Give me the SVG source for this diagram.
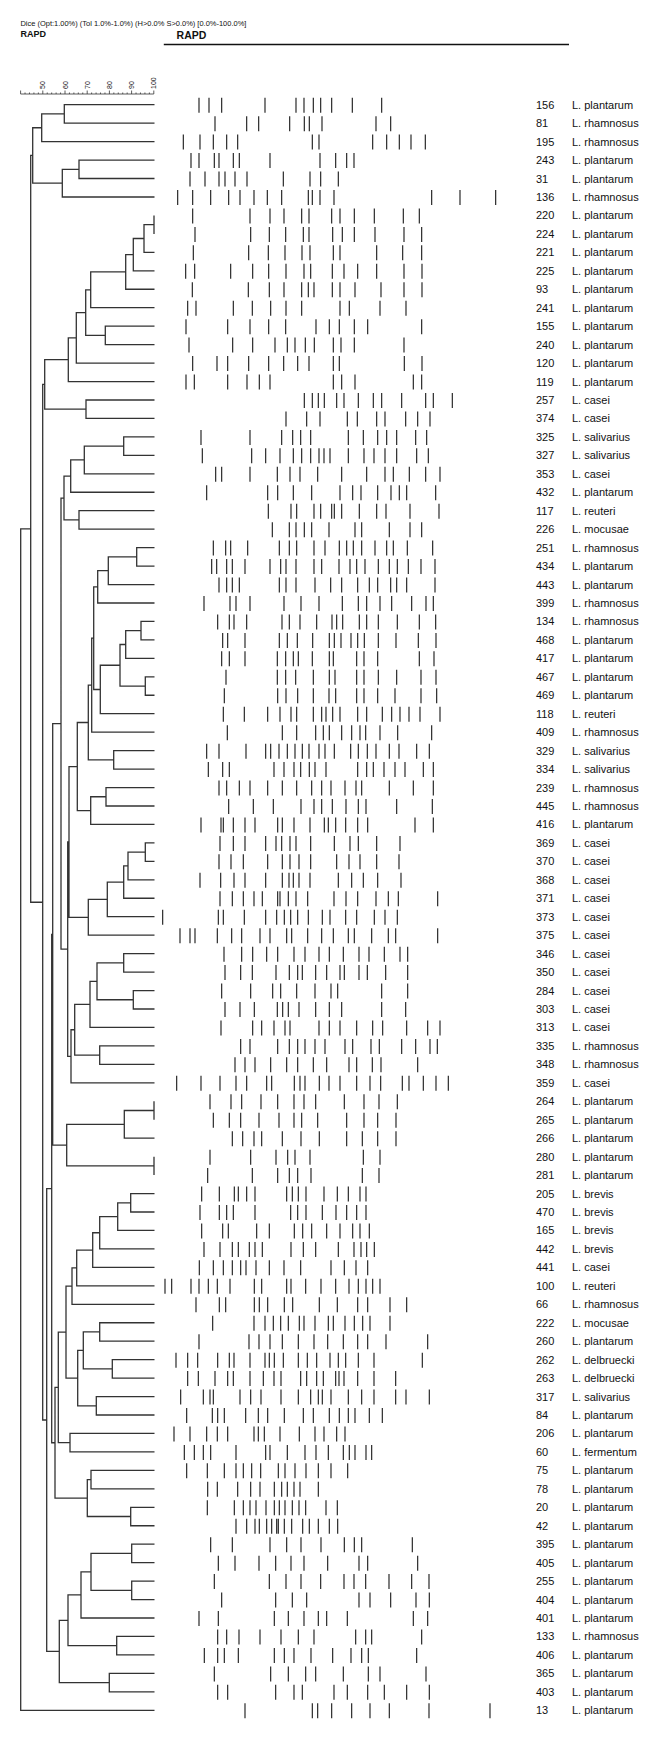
<svg xmlns="http://www.w3.org/2000/svg" width="666" height="1746" viewBox="0 0 666 1746">
<style>
.t{font-family:"Liberation Sans",Arial,sans-serif;fill:#111}
.n,.s{font-family:"Liberation Sans",Arial,sans-serif;font-size:11px;fill:#111}
.b{stroke:#2a2a2a;stroke-width:1.2;vector-effect:non-scaling-stroke;fill:none}
.d{stroke:#333;stroke-width:1.3;fill:none}
.ax{stroke:#333;stroke-width:0.8;fill:none}
</style>
<rect width="666" height="1746" fill="#fff"/>
<g id="header">
<text class="t" x="20.4" y="26" font-size="7.5" textLength="226" lengthAdjust="spacingAndGlyphs">Dice (Opt:1.00%) (Tol 1.0%-1.0%) (H&gt;0.0% S&gt;0.0%) [0.0%-100.0%]</text>
<text class="t" x="20.4" y="36.5" font-size="9" font-weight="bold">RAPD</text>
<text class="t" x="176.6" y="39" font-size="10.5" font-weight="bold">RAPD</text>
<path d="M163.8 44.5H569" stroke="#111" stroke-width="1.6"/>
</g>
<g id="scale">
<path class="ax" d="M20.6 94H153.8M20.6 94v-3.5M25.04 94v-1.5M29.48 94v-1.5M33.92 94v-1.5M38.36 94v-1.5M42.8 94v-3.5M47.24 94v-1.5M51.68 94v-1.5M56.12 94v-1.5M60.56 94v-1.5M65 94v-3.5M69.44 94v-1.5M73.88 94v-1.5M78.32 94v-1.5M82.76 94v-1.5M87.2 94v-3.5M91.64 94v-1.5M96.08 94v-1.5M100.52 94v-1.5M104.96 94v-1.5M109.4 94v-3.5M113.84 94v-1.5M118.28 94v-1.5M122.72 94v-1.5M127.16 94v-1.5M131.6 94v-3.5M136.04 94v-1.5M140.48 94v-1.5M144.92 94v-1.5M149.36 94v-1.5M153.8 94v-3.5"/>
<g class="t" font-size="7">
<text transform="translate(45.3,89) rotate(-90)">50</text>
<text transform="translate(67.5,89) rotate(-90)">60</text>
<text transform="translate(89.7,89) rotate(-90)">70</text>
<text transform="translate(111.9,89) rotate(-90)">80</text>
<text transform="translate(134.1,89) rotate(-90)">90</text>
<text transform="translate(156.3,89) rotate(-90)">100</text>
</g>
</g>
<g id="connectors">
<path class="d" d="M154.5 104.7H64.3V123.16H154.5M64.3 113.93H41.7V141.61H154.5M154.5 160.07H79V178.52H154.5M79 169.3H62.3V196.98H154.5M41.7 127.77H32.7V183.14H62.3
M154 215.43V233.89M154 224.66H144V252.34H154.5M144 238.5H133.3V270.8H154.5M133.3 254.65H125.7V289.25H154.5M125.7 271.95H90.7V307.71H154.5M154.5 326.16H105.3V344.62H154.5M90.7 289.83H85.7V335.39H105.3M85.7 312.61H76.3V363.07H154.5M76.3 337.84H68.3V381.53H154.5M154.5 399.98H86V418.44H154.5M68.3 359.69H44.7V409.21H86
M154.5 436.89H123.7V455.35H154.5M123.7 446.12H84.3V473.8H154.5M84.3 459.96H70.7V492.26H154.5M154.5 510.71H79V529.17H154.5M70.7 476.11H64V519.94H79
M154.5 547.62H136.7V566.08H154.5M136.7 556.85H108.3V584.53H154.5M108.3 570.69H97.7V602.99H154.5M154.5 621.44H141V639.9H154.5M141 630.67H125.7V658.35H154.5M154.5 676.81H145.3V695.26H154.5M125.7 644.51H120V686.04H145.3M120 665.27H100.3V713.72H154.5M97.7 586.84H93.7V689.5H100.3M93.7 638.17H91.7V732.17H154.5M154.5 750.63H113.7V769.08H154.5M91.7 685.17H88.3V759.86H113.7M154.5 787.54H106V805.99H154.5M106 796.77H90.7V824.45H154.5M88.3 722.51H77.3V810.61H90.7
M154.5 842.9H145.3V861.36H154.5M145.3 852.13H128V879.81H154.5M128 865.97H123.7V898.27H154.5M123.7 882.12H107.3V916.72H154.5M107.3 899.42H88.3V935.18H154.5M77.3 766.56H69V917.3H88.3
M154.5 953.63H123.7V972.09H154.5M154.5 990.54H133.3V1009H154.5M123.7 962.86H97V999.77H133.3M97 981.32H90V1027.45H154.5M154.5 1045.91H99.7V1064.36H154.5M90 1004.39H74.7V1055.14H99.7M74.7 1029.77H71V1082.82H154.5M69 841.93H67.7V1056.3H71M64 498.03H61V949.11H67.7
M154 1101.27V1119.73M154 1110.5H124.3V1138.18H154.5M154 1156.64V1175.09M124.3 1124.34H66.7V1165.87H154M61 723.57H52.7V1145.1H66.7
M154.5 1193.55H130.7V1212H154.5M130.7 1202.78H117.7V1230.46H154.5M117.7 1216.62H99.7V1248.91H154.5M99.7 1232.76H92.7V1267.37H154.5M92.7 1250.07H76.7V1285.82H154.5M76.7 1267.95H72V1304.28H154.5
M154.5 1322.73H99.7V1341.19H154.5M154.5 1359.64H112.3V1378.1H154.5M99.7 1331.96H83.3V1368.87H112.3M154.5 1396.55H96.3V1415.01H154.5M83.3 1350.41H77.7V1405.78H96.3M72 1286.1H66V1378.1H77.7M154.5 1433.46H70V1451.92H154.5M66 1332.1H58.3V1442.69H70M154.5 1470.37H91V1488.83H154.5M154.5 1507.28H130.7V1525.74H154.5M91 1479.6H87.3V1516.51H130.7M58.3 1387.4H55V1498.06H87.3M52.7 934.34H51.7V1442.73H55
M154.5 1544.19H131.7V1562.65H154.5M154.5 1581.1H131.7V1599.56H154.5M131.7 1553.42H91V1590.33H131.7M91 1571.88H81V1618.01H154.5M154.5 1636.47H116.7V1654.92H154.5M81 1594.95H68V1645.7H116.7M154.5 1673.38H109.3V1691.83H154.5M68 1620.32H59.3V1682.61H109.3M51.7 1188.53H46.7V1651.46H59.3M44.7 384.45H42.7V1420H46.7M32.7 155.45H30.7V902.23H42.7M30.7 528.84H20.7V1710.29H154.5"/>
</g>
<g id="r1" transform="translate(0,104.7)"><text class="n" x="536" y="4">156</text><text class="s" x="572" y="4">L. plantarum</text><path class="b" transform="scale(.33333,1)" d="M597-7v15M627-7v15M665-7v15M795-7v15M888-7v15M912-7v15M940-7v15M962-7v15M995-7v15M1057-7v15M1145-7v15"/></g>
<g id="r2" transform="translate(0,123.16)"><text class="n" x="536" y="4">81</text><text class="s" x="572" y="4">L. rhamnosus</text><path class="b" transform="scale(.33333,1)" d="M645-7v15M740-7v15M776-7v15M869-7v15M913-7v15M928-7v15M966-7v15M1128-7v15M1172-7v15"/></g>
<g id="r3" transform="translate(0,141.61)"><text class="n" x="536" y="4">195</text><text class="s" x="572" y="4">L. rhamnosus</text><path class="b" transform="scale(.33333,1)" d="M550-7v15M600-7v15M640-7v15M680-7v15M713-7v15M937-7v15M957-7v15M1118-7v15M1160-7v15M1198-7v15M1233-7v15M1276-7v15"/></g>
<g id="r4" transform="translate(0,160.07)"><text class="n" x="536" y="4">243</text><text class="s" x="572" y="4">L. plantarum</text><path class="b" transform="scale(.33333,1)" d="M573-7v15M597-7v15M643-7v15M657-7v15M700-7v15M718-7v15M810-7v15M960-7v15M1007-7v15M1040-7v15M1062-7v15"/></g>
<g id="r5" transform="translate(0,178.52)"><text class="n" x="536" y="4">31</text><text class="s" x="572" y="4">L. plantarum</text><path class="b" transform="scale(.33333,1)" d="M570-7v15M615-7v15M657-7v15M675-7v15M705-7v15M741-7v15M850-7v15M930-7v15M962-7v15M1015-7v15"/></g>
<g id="r6" transform="translate(0,196.98)"><text class="n" x="536" y="4">136</text><text class="s" x="572" y="4">L. rhamnosus</text><path class="b" transform="scale(.33333,1)" d="M533-7v15M578-7v15M632-7v15M686-7v15M720-7v15M762-7v15M802-7v15M845-7v15M925-7v15M937-7v15M960-7v15M1002-7v15M1295-7v15M1380-7v15M1487-7v15"/></g>
<g id="r7" transform="translate(0,215.43)"><text class="n" x="536" y="4">220</text><text class="s" x="572" y="4">L. plantarum</text><path class="b" transform="scale(.33333,1)" d="M578-7v15M750-7v15M810-7v15M852-7v15M905-7v15M927-7v15M995-7v15M1020-7v15M1063-7v15M1123-7v15M1210-7v15M1258-7v15"/></g>
<g id="r8" transform="translate(0,233.89)"><text class="n" x="536" y="4">224</text><text class="s" x="572" y="4">L. plantarum</text><path class="b" transform="scale(.33333,1)" d="M585-7v15M752-7v15M808-7v15M857-7v15M910-7v15M927-7v15M998-7v15M1027-7v15M1063-7v15M1125-7v15M1212-7v15M1265-7v15"/></g>
<g id="r9" transform="translate(0,252.34)"><text class="n" x="536" y="4">221</text><text class="s" x="572" y="4">L. plantarum</text><path class="b" transform="scale(.33333,1)" d="M580-7v15M746-7v15M805-7v15M855-7v15M906-7v15M930-7v15M1000-7v15M1020-7v15M1130-7v15M1208-7v15M1265-7v15"/></g>
<g id="r10" transform="translate(0,270.8)"><text class="n" x="536" y="4">225</text><text class="s" x="572" y="4">L. plantarum</text><path class="b" transform="scale(.33333,1)" d="M557-7v15M584-7v15M692-7v15M758-7v15M806-7v15M858-7v15M912-7v15M932-7v15M997-7v15M1032-7v15M1073-7v15M1130-7v15M1212-7v15M1266-7v15"/></g>
<g id="r11" transform="translate(0,289.25)"><text class="n" x="536" y="4">93</text><text class="s" x="572" y="4">L. plantarum</text><path class="b" transform="scale(.33333,1)" d="M577-7v15M745-7v15M808-7v15M852-7v15M905-7v15M925-7v15M942-7v15M997-7v15M1020-7v15M1065-7v15M1143-7v15M1212-7v15M1266-7v15"/></g>
<g id="r12" transform="translate(0,307.71)"><text class="n" x="536" y="4">241</text><text class="s" x="572" y="4">L. plantarum</text><path class="b" transform="scale(.33333,1)" d="M563-7v15M588-7v15M700-7v15M757-7v15M812-7v15M858-7v15M905-7v15M1020-7v15M1048-7v15M1140-7v15M1218-7v15"/></g>
<g id="r13" transform="translate(0,326.16)"><text class="n" x="536" y="4">155</text><text class="s" x="572" y="4">L. plantarum</text><path class="b" transform="scale(.33333,1)" d="M558-7v15M683-7v15M750-7v15M806-7v15M857-7v15M948-7v15M988-7v15M1018-7v15M1063-7v15M1103-7v15M1265-7v15"/></g>
<g id="r14" transform="translate(0,344.62)"><text class="n" x="536" y="4">240</text><text class="s" x="572" y="4">L. plantarum</text><path class="b" transform="scale(.33333,1)" d="M567-7v15M698-7v15M758-7v15M825-7v15M862-7v15M885-7v15M916-7v15M943-7v15M1000-7v15M1023-7v15M1063-7v15M1212-7v15"/></g>
<g id="r15" transform="translate(0,363.07)"><text class="n" x="536" y="4">120</text><text class="s" x="572" y="4">L. plantarum</text><path class="b" transform="scale(.33333,1)" d="M578-7v15M651-7v15M683-7v15M746-7v15M806-7v15M851-7v15M893-7v15M927-7v15M1000-7v15M1018-7v15M1213-7v15M1266-7v15"/></g>
<g id="r16" transform="translate(0,381.53)"><text class="n" x="536" y="4">119</text><text class="s" x="572" y="4">L. plantarum</text><path class="b" transform="scale(.33333,1)" d="M558-7v15M583-7v15M683-7v15M741-7v15M778-7v15M810-7v15M1000-7v15M1025-7v15M1065-7v15M1240-7v15M1265-7v15"/></g>
<g id="r17" transform="translate(0,399.98)"><text class="n" x="536" y="4">257</text><text class="s" x="572" y="4">L. casei</text><path class="b" transform="scale(.33333,1)" d="M913-7v15M937-7v15M955-7v15M973-7v15M1010-7v15M1032-7v15M1075-7v15M1120-7v15M1145-7v15M1205-7v15M1277-7v15M1300-7v15M1357-7v15"/></g>
<g id="r18" transform="translate(0,418.44)"><text class="n" x="536" y="4">374</text><text class="s" x="572" y="4">L. casei</text><path class="b" transform="scale(.33333,1)" d="M858-7v15M920-7v15M960-7v15M1042-7v15M1072-7v15M1130-7v15M1155-7v15M1217-7v15M1253-7v15M1290-7v15"/></g>
<g id="r19" transform="translate(0,436.89)"><text class="n" x="536" y="4">325</text><text class="s" x="572" y="4">L. salivarius</text><path class="b" transform="scale(.33333,1)" d="M603-7v15M750-7v15M845-7v15M878-7v15M902-7v15M932-7v15M1045-7v15M1090-7v15M1133-7v15M1160-7v15M1190-7v15M1247-7v15M1280-7v15"/></g>
<g id="r20" transform="translate(0,455.35)"><text class="n" x="536" y="4">327</text><text class="s" x="572" y="4">L. salivarius</text><path class="b" transform="scale(.33333,1)" d="M607-7v15M755-7v15M797-7v15M840-7v15M880-7v15M905-7v15M932-7v15M957-7v15M972-7v15M990-7v15M1045-7v15M1092-7v15M1122-7v15M1155-7v15M1190-7v15M1250-7v15M1285-7v15"/></g>
<g id="r21" transform="translate(0,473.8)"><text class="n" x="536" y="4">353</text><text class="s" x="572" y="4">L. casei</text><path class="b" transform="scale(.33333,1)" d="M647-7v15M665-7v15M750-7v15M832-7v15M870-7v15M900-7v15M953-7v15M1025-7v15M1100-7v15M1155-7v15M1180-7v15M1228-7v15M1277-7v15M1320-7v15"/></g>
<g id="r22" transform="translate(0,492.26)"><text class="n" x="536" y="4">432</text><text class="s" x="572" y="4">L. plantarum</text><path class="b" transform="scale(.33333,1)" d="M620-7v15M803-7v15M833-7v15M880-7v15M935-7v15M1020-7v15M1058-7v15M1083-7v15M1133-7v15M1173-7v15M1198-7v15M1220-7v15M1307-7v15"/></g>
<g id="r23" transform="translate(0,510.71)"><text class="n" x="536" y="4">117</text><text class="s" x="572" y="4">L. reuteri</text><path class="b" transform="scale(.33333,1)" d="M805-7v15M873-7v15M890-7v15M942-7v15M962-7v15M995-7v15M1003-7v15M1025-7v15M1078-7v15M1130-7v15M1158-7v15M1230-7v15M1317-7v15"/></g>
<g id="r24" transform="translate(0,529.17)"><text class="n" x="536" y="4">226</text><text class="s" x="572" y="4">L. mocusae</text><path class="b" transform="scale(.33333,1)" d="M817-7v15M868-7v15M888-7v15M913-7v15M935-7v15M987-7v15M1065-7v15M1085-7v15M1168-7v15M1230-7v15M1265-7v15"/></g>
<g id="r25" transform="translate(0,547.62)"><text class="n" x="536" y="4">251</text><text class="s" x="572" y="4">L. rhamnosus</text><path class="b" transform="scale(.33333,1)" d="M640-7v15M677-7v15M692-7v15M743-7v15M838-7v15M868-7v15M890-7v15M942-7v15M975-7v15M1018-7v15M1040-7v15M1060-7v15M1085-7v15M1125-7v15M1160-7v15M1180-7v15M1222-7v15M1298-7v15"/></g>
<g id="r26" transform="translate(0,566.08)"><text class="n" x="536" y="4">434</text><text class="s" x="572" y="4">L. plantarum</text><path class="b" transform="scale(.33333,1)" d="M635-7v15M650-7v15M680-7v15M697-7v15M735-7v15M810-7v15M842-7v15M858-7v15M888-7v15M942-7v15M965-7v15M1017-7v15M1050-7v15M1070-7v15M1095-7v15M1135-7v15M1168-7v15M1192-7v15M1225-7v15M1263-7v15M1305-7v15"/></g>
<g id="r27" transform="translate(0,584.53)"><text class="n" x="536" y="4">443</text><text class="s" x="572" y="4">L. plantarum</text><path class="b" transform="scale(.33333,1)" d="M657-7v15M680-7v15M697-7v15M718-7v15M838-7v15M858-7v15M888-7v15M945-7v15M992-7v15M1025-7v15M1073-7v15M1108-7v15M1133-7v15M1172-7v15M1190-7v15M1220-7v15M1305-7v15"/></g>
<g id="r28" transform="translate(0,602.99)"><text class="n" x="536" y="4">399</text><text class="s" x="572" y="4">L. rhamnosus</text><path class="b" transform="scale(.33333,1)" d="M612-7v15M690-7v15M708-7v15M750-7v15M852-7v15M903-7v15M957-7v15M1027-7v15M1075-7v15M1100-7v15M1140-7v15M1175-7v15M1235-7v15M1278-7v15M1300-7v15"/></g>
<g id="r29" transform="translate(0,621.44)"><text class="n" x="536" y="4">134</text><text class="s" x="572" y="4">L. rhamnosus</text><path class="b" transform="scale(.33333,1)" d="M653-7v15M688-7v15M702-7v15M740-7v15M846-7v15M868-7v15M900-7v15M950-7v15M996-7v15M1010-7v15M1028-7v15M1078-7v15M1100-7v15M1135-7v15M1192-7v15M1258-7v15M1307-7v15"/></g>
<g id="r30" transform="translate(0,639.9)"><text class="n" x="536" y="4">468</text><text class="s" x="572" y="4">L. plantarum</text><path class="b" transform="scale(.33333,1)" d="M668-7v15M683-7v15M735-7v15M838-7v15M862-7v15M892-7v15M938-7v15M988-7v15M1003-7v15M1023-7v15M1053-7v15M1073-7v15M1093-7v15M1135-7v15M1188-7v15M1255-7v15M1308-7v15"/></g>
<g id="r31" transform="translate(0,658.35)"><text class="n" x="536" y="4">417</text><text class="s" x="572" y="4">L. plantarum</text><path class="b" transform="scale(.33333,1)" d="M665-7v15M688-7v15M735-7v15M832-7v15M857-7v15M880-7v15M895-7v15M937-7v15M988-7v15M1000-7v15M1070-7v15M1092-7v15M1133-7v15M1258-7v15M1302-7v15"/></g>
<g id="r32" transform="translate(0,676.81)"><text class="n" x="536" y="4">467</text><text class="s" x="572" y="4">L. plantarum</text><path class="b" transform="scale(.33333,1)" d="M678-7v15M832-7v15M857-7v15M887-7v15M940-7v15M988-7v15M1005-7v15M1070-7v15M1092-7v15M1135-7v15M1190-7v15M1263-7v15M1308-7v15"/></g>
<g id="r33" transform="translate(0,695.26)"><text class="n" x="536" y="4">469</text><text class="s" x="572" y="4">L. plantarum</text><path class="b" transform="scale(.33333,1)" d="M673-7v15M833-7v15M858-7v15M893-7v15M940-7v15M987-7v15M1007-7v15M1070-7v15M1092-7v15M1133-7v15M1185-7v15M1263-7v15M1310-7v15"/></g>
<g id="r34" transform="translate(0,713.72)"><text class="n" x="536" y="4">118</text><text class="s" x="572" y="4">L. reuteri</text><path class="b" transform="scale(.33333,1)" d="M670-7v15M733-7v15M803-7v15M840-7v15M873-7v15M890-7v15M940-7v15M965-7v15M978-7v15M998-7v15M1020-7v15M1073-7v15M1100-7v15M1147-7v15M1175-7v15M1200-7v15M1227-7v15M1260-7v15M1320-7v15"/></g>
<g id="r35" transform="translate(0,732.17)"><text class="n" x="536" y="4">409</text><text class="s" x="572" y="4">L. rhamnosus</text><path class="b" transform="scale(.33333,1)" d="M682-7v15M847-7v15M890-7v15M947-7v15M970-7v15M988-7v15M1025-7v15M1055-7v15M1080-7v15M1097-7v15M1140-7v15M1193-7v15M1295-7v15"/></g>
<g id="r36" transform="translate(0,750.63)"><text class="n" x="536" y="4">329</text><text class="s" x="572" y="4">L. salivarius</text><path class="b" transform="scale(.33333,1)" d="M620-7v15M657-7v15M738-7v15M797-7v15M812-7v15M837-7v15M862-7v15M885-7v15M907-7v15M927-7v15M957-7v15M975-7v15M1003-7v15M1052-7v15M1075-7v15M1102-7v15M1128-7v15M1168-7v15M1197-7v15M1250-7v15M1288-7v15"/></g>
<g id="r37" transform="translate(0,769.08)"><text class="n" x="536" y="4">334</text><text class="s" x="572" y="4">L. salivarius</text><path class="b" transform="scale(.33333,1)" d="M625-7v15M668-7v15M688-7v15M822-7v15M852-7v15M882-7v15M902-7v15M928-7v15M945-7v15M978-7v15M1073-7v15M1100-7v15M1120-7v15M1152-7v15M1185-7v15M1215-7v15M1270-7v15M1300-7v15"/></g>
<g id="r38" transform="translate(0,787.54)"><text class="n" x="536" y="4">239</text><text class="s" x="572" y="4">L. rhamnosus</text><path class="b" transform="scale(.33333,1)" d="M657-7v15M680-7v15M718-7v15M750-7v15M803-7v15M847-7v15M890-7v15M935-7v15M965-7v15M993-7v15M1035-7v15M1068-7v15M1085-7v15M1168-7v15M1240-7v15M1300-7v15"/></g>
<g id="r39" transform="translate(0,805.99)"><text class="n" x="536" y="4">445</text><text class="s" x="572" y="4">L. rhamnosus</text><path class="b" transform="scale(.33333,1)" d="M686-7v15M760-7v15M820-7v15M903-7v15M942-7v15M965-7v15M997-7v15M1038-7v15M1075-7v15M1098-7v15M1190-7v15M1297-7v15"/></g>
<g id="r40" transform="translate(0,824.45)"><text class="n" x="536" y="4">416</text><text class="s" x="572" y="4">L. plantarum</text><path class="b" transform="scale(.33333,1)" d="M603-7v15M663-7v15M670-7v15M700-7v15M735-7v15M765-7v15M833-7v15M847-7v15M882-7v15M930-7v15M973-7v15M985-7v15M1007-7v15M1037-7v15M1073-7v15M1103-7v15M1245-7v15M1300-7v15"/></g>
<g id="r41" transform="translate(0,842.9)"><text class="n" x="536" y="4">369</text><text class="s" x="572" y="4">L. casei</text><path class="b" transform="scale(.33333,1)" d="M660-7v15M700-7v15M735-7v15M797-7v15M828-7v15M845-7v15M870-7v15M888-7v15M932-7v15M1003-7v15M1050-7v15M1075-7v15M1130-7v15M1200-7v15"/></g>
<g id="r42" transform="translate(0,861.36)"><text class="n" x="536" y="4">370</text><text class="s" x="572" y="4">L. casei</text><path class="b" transform="scale(.33333,1)" d="M657-7v15M693-7v15M730-7v15M803-7v15M847-7v15M870-7v15M897-7v15M932-7v15M1010-7v15M1047-7v15M1080-7v15M1130-7v15M1197-7v15"/></g>
<g id="r43" transform="translate(0,879.81)"><text class="n" x="536" y="4">368</text><text class="s" x="572" y="4">L. casei</text><path class="b" transform="scale(.33333,1)" d="M600-7v15M662-7v15M702-7v15M735-7v15M797-7v15M847-7v15M867-7v15M880-7v15M897-7v15M930-7v15M1015-7v15M1055-7v15M1090-7v15M1133-7v15M1203-7v15"/></g>
<g id="r44" transform="translate(0,898.27)"><text class="n" x="536" y="4">371</text><text class="s" x="572" y="4">L. casei</text><path class="b" transform="scale(.33333,1)" d="M660-7v15M697-7v15M730-7v15M762-7v15M787-7v15M833-7v15M840-7v15M865-7v15M888-7v15M923-7v15M1002-7v15M1038-7v15M1073-7v15M1128-7v15M1165-7v15M1195-7v15M1313-7v15"/></g>
<g id="r45" transform="translate(0,916.72)"><text class="n" x="536" y="4">373</text><text class="s" x="572" y="4">L. casei</text><path class="b" transform="scale(.33333,1)" d="M488-7v15M655-7v15M670-7v15M733-7v15M797-7v15M830-7v15M853-7v15M872-7v15M893-7v15M925-7v15M967-7v15M990-7v15M1037-7v15M1070-7v15M1123-7v15M1155-7v15M1192-7v15"/></g>
<g id="r46" transform="translate(0,935.18)"><text class="n" x="536" y="4">375</text><text class="s" x="572" y="4">L. casei</text><path class="b" transform="scale(.33333,1)" d="M540-7v15M570-7v15M585-7v15M652-7v15M695-7v15M725-7v15M780-7v15M810-7v15M860-7v15M875-7v15M923-7v15M965-7v15M1000-7v15M1045-7v15M1063-7v15M1115-7v15M1165-7v15M1187-7v15M1313-7v15"/></g>
<g id="r47" transform="translate(0,953.63)"><text class="n" x="536" y="4">346</text><text class="s" x="572" y="4">L. casei</text><path class="b" transform="scale(.33333,1)" d="M672-7v15M725-7v15M758-7v15M800-7v15M833-7v15M882-7v15M915-7v15M957-7v15M988-7v15M1030-7v15M1077-7v15M1107-7v15M1153-7v15M1200-7v15M1223-7v15"/></g>
<g id="r48" transform="translate(0,972.09)"><text class="n" x="536" y="4">350</text><text class="s" x="572" y="4">L. casei</text><path class="b" transform="scale(.33333,1)" d="M675-7v15M722-7v15M757-7v15M828-7v15M868-7v15M893-7v15M907-7v15M947-7v15M980-7v15M1020-7v15M1033-7v15M1077-7v15M1102-7v15M1157-7v15M1223-7v15"/></g>
<g id="r49" transform="translate(0,990.54)"><text class="n" x="536" y="4">284</text><text class="s" x="572" y="4">L. casei</text><path class="b" transform="scale(.33333,1)" d="M665-7v15M752-7v15M818-7v15M842-7v15M890-7v15M945-7v15M993-7v15M1013-7v15M1145-7v15M1223-7v15"/></g>
<g id="r50" transform="translate(0,1009)"><text class="n" x="536" y="4">303</text><text class="s" x="572" y="4">L. casei</text><path class="b" transform="scale(.33333,1)" d="M675-7v15M720-7v15M763-7v15M832-7v15M848-7v15M865-7v15M897-7v15M947-7v15M988-7v15M1025-7v15M1145-7v15M1217-7v15"/></g>
<g id="r51" transform="translate(0,1027.45)"><text class="n" x="536" y="4">313</text><text class="s" x="572" y="4">L. casei</text><path class="b" transform="scale(.33333,1)" d="M663-7v15M758-7v15M785-7v15M822-7v15M855-7v15M870-7v15M957-7v15M988-7v15M1020-7v15M1070-7v15M1118-7v15M1148-7v15M1220-7v15M1283-7v15M1320-7v15"/></g>
<g id="r52" transform="translate(0,1045.91)"><text class="n" x="536" y="4">335</text><text class="s" x="572" y="4">L. rhamnosus</text><path class="b" transform="scale(.33333,1)" d="M722-7v15M750-7v15M833-7v15M868-7v15M893-7v15M915-7v15M945-7v15M975-7v15M1035-7v15M1058-7v15M1113-7v15M1138-7v15M1205-7v15M1247-7v15M1290-7v15M1312-7v15"/></g>
<g id="r53" transform="translate(0,1064.36)"><text class="n" x="536" y="4">348</text><text class="s" x="572" y="4">L. rhamnosus</text><path class="b" transform="scale(.33333,1)" d="M705-7v15M735-7v15M765-7v15M812-7v15M860-7v15M893-7v15M940-7v15M980-7v15M1047-7v15M1070-7v15M1117-7v15M1143-7v15M1253-7v15"/></g>
<g id="r54" transform="translate(0,1082.82)"><text class="n" x="536" y="4">359</text><text class="s" x="572" y="4">L. casei</text><path class="b" transform="scale(.33333,1)" d="M530-7v15M603-7v15M660-7v15M708-7v15M740-7v15M800-7v15M815-7v15M883-7v15M900-7v15M915-7v15M958-7v15M987-7v15M1020-7v15M1070-7v15M1110-7v15M1142-7v15M1207-7v15M1227-7v15M1270-7v15M1308-7v15M1345-7v15"/></g>
<g id="r55" transform="translate(0,1101.27)"><text class="n" x="536" y="4">264</text><text class="s" x="572" y="4">L. plantarum</text><path class="b" transform="scale(.33333,1)" d="M630-7v15M693-7v15M725-7v15M783-7v15M833-7v15M882-7v15M912-7v15M947-7v15M1033-7v15M1092-7v15M1137-7v15M1192-7v15"/></g>
<g id="r56" transform="translate(0,1119.73)"><text class="n" x="536" y="4">265</text><text class="s" x="572" y="4">L. plantarum</text><path class="b" transform="scale(.33333,1)" d="M640-7v15M688-7v15M722-7v15M777-7v15M837-7v15M882-7v15M905-7v15M953-7v15M1040-7v15M1092-7v15M1133-7v15M1188-7v15"/></g>
<g id="r57" transform="translate(0,1138.18)"><text class="n" x="536" y="4">266</text><text class="s" x="572" y="4">L. plantarum</text><path class="b" transform="scale(.33333,1)" d="M697-7v15M728-7v15M762-7v15M785-7v15M847-7v15M903-7v15M958-7v15M1040-7v15M1087-7v15M1133-7v15M1188-7v15"/></g>
<g id="r58" transform="translate(0,1156.64)"><text class="n" x="536" y="4">280</text><text class="s" x="572" y="4">L. plantarum</text><path class="b" transform="scale(.33333,1)" d="M630-7v15M752-7v15M828-7v15M863-7v15M885-7v15M930-7v15M1090-7v15M1140-7v15"/></g>
<g id="r59" transform="translate(0,1175.09)"><text class="n" x="536" y="4">281</text><text class="s" x="572" y="4">L. plantarum</text><path class="b" transform="scale(.33333,1)" d="M623-7v15M757-7v15M833-7v15M868-7v15M893-7v15M933-7v15M1087-7v15M1137-7v15"/></g>
<g id="r60" transform="translate(0,1193.55)"><text class="n" x="536" y="4">205</text><text class="s" x="572" y="4">L. brevis</text><path class="b" transform="scale(.33333,1)" d="M605-7v15M658-7v15M703-7v15M715-7v15M740-7v15M765-7v15M860-7v15M877-7v15M895-7v15M918-7v15M972-7v15M1012-7v15M1045-7v15M1080-7v15M1098-7v15"/></g>
<g id="r61" transform="translate(0,1212)"><text class="n" x="536" y="4">470</text><text class="s" x="572" y="4">L. brevis</text><path class="b" transform="scale(.33333,1)" d="M600-7v15M658-7v15M680-7v15M700-7v15M765-7v15M872-7v15M893-7v15M918-7v15M967-7v15M1008-7v15M1040-7v15M1070-7v15M1098-7v15"/></g>
<g id="r62" transform="translate(0,1230.46)"><text class="n" x="536" y="4">165</text><text class="s" x="572" y="4">L. brevis</text><path class="b" transform="scale(.33333,1)" d="M605-7v15M668-7v15M685-7v15M770-7v15M808-7v15M883-7v15M908-7v15M935-7v15M980-7v15M1020-7v15M1058-7v15M1080-7v15M1108-7v15"/></g>
<g id="r63" transform="translate(0,1248.91)"><text class="n" x="536" y="4">442</text><text class="s" x="572" y="4">L. brevis</text><path class="b" transform="scale(.33333,1)" d="M612-7v15M660-7v15M697-7v15M715-7v15M748-7v15M765-7v15M787-7v15M873-7v15M910-7v15M947-7v15M1015-7v15M1062-7v15M1083-7v15M1100-7v15M1123-7v15"/></g>
<g id="r64" transform="translate(0,1267.37)"><text class="n" x="536" y="4">441</text><text class="s" x="572" y="4">L. casei</text><path class="b" transform="scale(.33333,1)" d="M598-7v15M640-7v15M670-7v15M697-7v15M722-7v15M738-7v15M768-7v15M808-7v15M852-7v15M902-7v15M993-7v15M1033-7v15M1068-7v15M1103-7v15"/></g>
<g id="r65" transform="translate(0,1285.82)"><text class="n" x="536" y="4">100</text><text class="s" x="572" y="4">L. reuteri</text><path class="b" transform="scale(.33333,1)" d="M495-7v15M515-7v15M573-7v15M597-7v15M625-7v15M652-7v15M690-7v15M763-7v15M785-7v15M860-7v15M873-7v15M917-7v15M963-7v15M1007-7v15M1047-7v15M1075-7v15M1098-7v15M1118-7v15M1140-7v15"/></g>
<g id="r66" transform="translate(0,1304.28)"><text class="n" x="536" y="4">66</text><text class="s" x="572" y="4">L. rhamnosus</text><path class="b" transform="scale(.33333,1)" d="M588-7v15M658-7v15M677-7v15M763-7v15M778-7v15M803-7v15M853-7v15M878-7v15M958-7v15M1012-7v15M1073-7v15M1103-7v15M1170-7v15M1220-7v15"/></g>
<g id="r67" transform="translate(0,1322.73)"><text class="n" x="536" y="4">222</text><text class="s" x="572" y="4">L. mocusae</text><path class="b" transform="scale(.33333,1)" d="M638-7v15M762-7v15M795-7v15M820-7v15M842-7v15M865-7v15M898-7v15M912-7v15M945-7v15M985-7v15M1000-7v15M1035-7v15M1063-7v15M1088-7v15M1110-7v15M1170-7v15"/></g>
<g id="r68" transform="translate(0,1341.19)"><text class="n" x="536" y="4">260</text><text class="s" x="572" y="4">L. plantarum</text><path class="b" transform="scale(.33333,1)" d="M597-7v15M747-7v15M777-7v15M810-7v15M847-7v15M895-7v15M942-7v15M983-7v15M1030-7v15M1073-7v15M1103-7v15M1158-7v15M1283-7v15"/></g>
<g id="r69" transform="translate(0,1359.64)"><text class="n" x="536" y="4">262</text><text class="s" x="572" y="4">L. delbruecki</text><path class="b" transform="scale(.33333,1)" d="M528-7v15M563-7v15M593-7v15M653-7v15M688-7v15M702-7v15M750-7v15M795-7v15M808-7v15M823-7v15M850-7v15M895-7v15M922-7v15M950-7v15M990-7v15M1015-7v15M1037-7v15M1075-7v15M1122-7v15M1267-7v15"/></g>
<g id="r70" transform="translate(0,1378.1)"><text class="n" x="536" y="4">263</text><text class="s" x="572" y="4">L. delbruecki</text><path class="b" transform="scale(.33333,1)" d="M563-7v15M595-7v15M645-7v15M683-7v15M700-7v15M750-7v15M790-7v15M822-7v15M843-7v15M902-7v15M920-7v15M950-7v15M970-7v15M1007-7v15M1017-7v15M1032-7v15M1073-7v15M1122-7v15M1187-7v15"/></g>
<g id="r71" transform="translate(0,1396.55)"><text class="n" x="536" y="4">317</text><text class="s" x="572" y="4">L. salivarius</text><path class="b" transform="scale(.33333,1)" d="M542-7v15M610-7v15M630-7v15M640-7v15M720-7v15M752-7v15M783-7v15M843-7v15M895-7v15M932-7v15M955-7v15M967-7v15M993-7v15M1045-7v15M1085-7v15M1122-7v15M1187-7v15M1218-7v15M1288-7v15"/></g>
<g id="r72" transform="translate(0,1415.01)"><text class="n" x="536" y="4">84</text><text class="s" x="572" y="4">L. plantarum</text><path class="b" transform="scale(.33333,1)" d="M560-7v15M637-7v15M653-7v15M673-7v15M737-7v15M775-7v15M803-7v15M853-7v15M910-7v15M940-7v15M988-7v15M1018-7v15M1045-7v15M1065-7v15M1108-7v15M1147-7v15"/></g>
<g id="r73" transform="translate(0,1433.46)"><text class="n" x="536" y="4">206</text><text class="s" x="572" y="4">L. plantarum</text><path class="b" transform="scale(.33333,1)" d="M522-7v15M570-7v15M620-7v15M652-7v15M683-7v15M762-7v15M775-7v15M793-7v15M840-7v15M898-7v15M945-7v15M972-7v15M1010-7v15M1035-7v15"/></g>
<g id="r74" transform="translate(0,1451.92)"><text class="n" x="536" y="4">60</text><text class="s" x="572" y="4">L. fermentum</text><path class="b" transform="scale(.33333,1)" d="M553-7v15M583-7v15M610-7v15M632-7v15M708-7v15M797-7v15M810-7v15M862-7v15M915-7v15M948-7v15M985-7v15M1030-7v15M1048-7v15M1065-7v15M1098-7v15M1115-7v15"/></g>
<g id="r75" transform="translate(0,1470.37)"><text class="n" x="536" y="4">75</text><text class="s" x="572" y="4">L. plantarum</text><path class="b" transform="scale(.33333,1)" d="M560-7v15M622-7v15M673-7v15M708-7v15M730-7v15M755-7v15M782-7v15M835-7v15M855-7v15M885-7v15M918-7v15M955-7v15M993-7v15M1043-7v15"/></g>
<g id="r76" transform="translate(0,1488.83)"><text class="n" x="536" y="4">78</text><text class="s" x="572" y="4">L. plantarum</text><path class="b" transform="scale(.33333,1)" d="M623-7v15M652-7v15M713-7v15M752-7v15M780-7v15M823-7v15M845-7v15M862-7v15M882-7v15M900-7v15M955-7v15"/></g>
<g id="r77" transform="translate(0,1507.28)"><text class="n" x="536" y="4">20</text><text class="s" x="572" y="4">L. plantarum</text><path class="b" transform="scale(.33333,1)" d="M622-7v15M703-7v15M730-7v15M750-7v15M768-7v15M798-7v15M823-7v15M838-7v15M855-7v15M877-7v15M897-7v15M917-7v15M978-7v15M1012-7v15"/></g>
<g id="r78" transform="translate(0,1525.74)"><text class="n" x="536" y="4">42</text><text class="s" x="572" y="4">L. plantarum</text><path class="b" transform="scale(.33333,1)" d="M708-7v15M740-7v15M765-7v15M778-7v15M800-7v15M815-7v15M830-7v15M835-7v15M853-7v15M875-7v15M908-7v15M928-7v15M955-7v15M988-7v15M1013-7v15"/></g>
<g id="r79" transform="translate(0,1544.19)"><text class="n" x="536" y="4">395</text><text class="s" x="572" y="4">L. plantarum</text><path class="b" transform="scale(.33333,1)" d="M632-7v15M697-7v15M810-7v15M860-7v15M903-7v15M963-7v15M1033-7v15M1063-7v15M1085-7v15M1237-7v15"/></g>
<g id="r80" transform="translate(0,1562.65)"><text class="n" x="536" y="4">405</text><text class="s" x="572" y="4">L. plantarum</text><path class="b" transform="scale(.33333,1)" d="M655-7v15M705-7v15M777-7v15M827-7v15M873-7v15M912-7v15M983-7v15M1077-7v15M1103-7v15M1253-7v15"/></g>
<g id="r81" transform="translate(0,1581.1)"><text class="n" x="536" y="4">255</text><text class="s" x="572" y="4">L. plantarum</text><path class="b" transform="scale(.33333,1)" d="M643-7v15M808-7v15M858-7v15M903-7v15M962-7v15M1032-7v15M1062-7v15M1097-7v15M1167-7v15M1235-7v15M1287-7v15"/></g>
<g id="r82" transform="translate(0,1599.56)"><text class="n" x="536" y="4">404</text><text class="s" x="572" y="4">L. plantarum</text><path class="b" transform="scale(.33333,1)" d="M665-7v15M827-7v15M877-7v15M920-7v15M1077-7v15M1110-7v15M1172-7v15M1248-7v15M1288-7v15"/></g>
<g id="r83" transform="translate(0,1618.01)"><text class="n" x="536" y="4">401</text><text class="s" x="572" y="4">L. plantarum</text><path class="b" transform="scale(.33333,1)" d="M597-7v15M655-7v15M823-7v15M865-7v15M912-7v15M955-7v15M980-7v15M1042-7v15M1240-7v15M1283-7v15"/></g>
<g id="r84" transform="translate(0,1636.47)"><text class="n" x="536" y="4">133</text><text class="s" x="572" y="4">L. rhamnosus</text><path class="b" transform="scale(.33333,1)" d="M653-7v15M680-7v15M717-7v15M780-7v15M843-7v15M895-7v15M942-7v15M1067-7v15M1097-7v15M1115-7v15M1265-7v15"/></g>
<g id="r85" transform="translate(0,1654.92)"><text class="n" x="536" y="4">406</text><text class="s" x="572" y="4">L. plantarum</text><path class="b" transform="scale(.33333,1)" d="M613-7v15M653-7v15M673-7v15M715-7v15M823-7v15M853-7v15M882-7v15M933-7v15M998-7v15M1053-7v15M1085-7v15M1105-7v15M1250-7v15"/></g>
<g id="r86" transform="translate(0,1673.38)"><text class="n" x="536" y="4">365</text><text class="s" x="572" y="4">L. plantarum</text><path class="b" transform="scale(.33333,1)" d="M643-7v15M812-7v15M865-7v15M917-7v15M947-7v15M1030-7v15M1105-7v15M1140-7v15M1278-7v15"/></g>
<g id="r87" transform="translate(0,1691.83)"><text class="n" x="536" y="4">403</text><text class="s" x="572" y="4">L. plantarum</text><path class="b" transform="scale(.33333,1)" d="M653-7v15M683-7v15M827-7v15M882-7v15M907-7v15M1002-7v15M1042-7v15M1103-7v15M1153-7v15M1220-7v15M1288-7v15"/></g>
<g id="r88" transform="translate(0,1710.29)"><text class="n" x="536" y="4">13</text><text class="s" x="572" y="4">L. plantarum</text><path class="b" transform="scale(.33333,1)" d="M735-7v15M937-7v15M953-7v15M995-7v15M1055-7v15M1110-7v15M1168-7v15M1287-7v15M1470-7v15"/></g>
</svg>
